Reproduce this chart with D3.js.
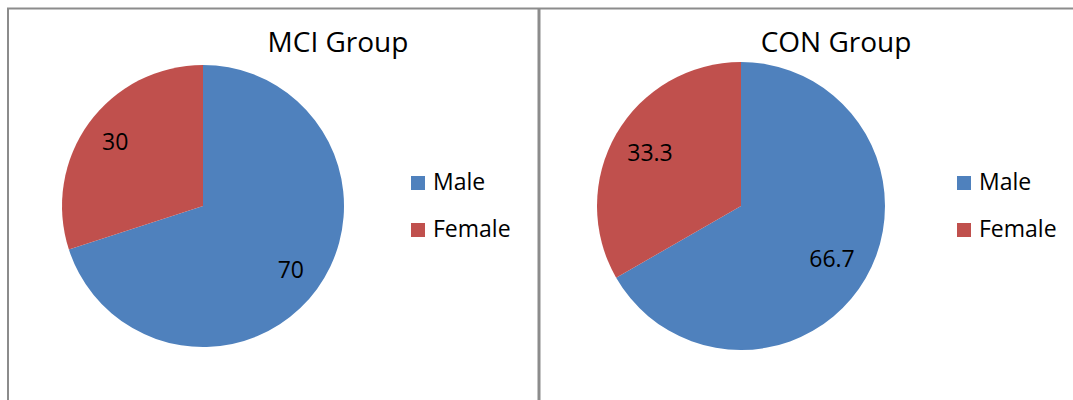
<!DOCTYPE html>
<html>
<head>
<meta charset="utf-8">
<script src="https://cdn.jsdelivr.net/npm/d3@7"></script>
<style>
  body { margin: 0; background: #fff; }
  svg text { font-family: "Open Sans", sans-serif; fill: #000; }
</style>
</head>
<body>
<svg id="chart" width="1073" height="400"></svg>
<script>
// data
const groups = ['MCI Group', 'CON Group'];
const categories = ['Male', 'Female'];
const mciValues = [70, 30];
const conValues = [66.7, 33.3];
const colors = ['#4F81BD', '#C0504D'];

const svg = d3.select('#chart');

// panel frames
const frameColor = '#8c8c8c';
svg.append('line')
    .attr('x1', 7).attr('x2', 1073)
    .attr('y1', 8.5).attr('y2', 8.5)
    .attr('stroke', frameColor).attr('stroke-width', 2);
svg.append('line')
    .attr('x1', 8).attr('x2', 8)
    .attr('y1', 8).attr('y2', 400)
    .attr('stroke', frameColor).attr('stroke-width', 2);
svg.append('line')
    .attr('x1', 539).attr('x2', 539)
    .attr('y1', 8).attr('y2', 400)
    .attr('stroke', frameColor).attr('stroke-width', 3);

const panels = [
    { title: groups[0], values: mciValues, cx: 203, cy: 206, r: 141, labelK: 0.77, titleX: 338, legendX: 411 },
    { title: groups[1], values: conValues, cx: 741, cy: 206, r: 144, labelK: 0.73, titleX: 836, legendX: 957 }
];

const pie = d3.pie().sort(null).value(d => d);
const color = d3.scaleOrdinal().domain(categories).range(colors);

panels.forEach(p => {
    const g = svg.append('g');

    g.append('text')
        .attr('x', p.titleX)
        .attr('y', 52)
        .attr('text-anchor', 'middle')
        .style('font-size', '28px')
        .text(p.title);

    const arc = d3.arc().innerRadius(0).outerRadius(p.r);
    const labelArc = d3.arc().innerRadius(p.r * p.labelK).outerRadius(p.r * p.labelK);

    const pg = g.append('g').attr('transform', `translate(${p.cx},${p.cy})`);
    const arcs = pie(p.values);

    pg.selectAll('path')
        .data(arcs)
        .enter()
        .append('path')
        .attr('d', arc)
        .attr('fill', (d, i) => color(categories[i]));

    pg.selectAll('text.lbl')
        .data(arcs)
        .enter()
        .append('text')
        .attr('class', 'lbl')
        .attr('transform', d => `translate(${labelArc.centroid(d)})`)
        .attr('text-anchor', 'middle')
        .attr('dy', '0.35em')
        .style('font-size', '23px')
        .text(d => d.data);

    // legend
    const leg = g.selectAll('g.leg')
        .data(categories)
        .enter()
        .append('g')
        .attr('class', 'leg')
        .attr('transform', (d, i) => `translate(${p.legendX},${176 + i * 47})`);

    leg.append('rect')
        .attr('width', 14)
        .attr('height', 14)
        .attr('fill', d => color(d));

    leg.append('text')
        .attr('x', 22)
        .attr('y', 14)
        .style('font-size', '23px')
        .text(d => d);
});
</script>
</body>
</html>
